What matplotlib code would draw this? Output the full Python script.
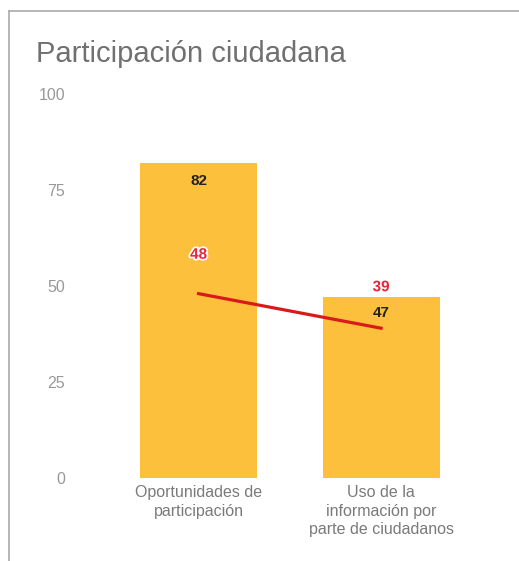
import matplotlib
matplotlib.use("Agg")
import matplotlib.pyplot as plt
from matplotlib.lines import Line2D
import matplotlib.patheffects as pe

# datos
categorias = ["Oportunidades de\nparticipación", "Uso de la\ninformación por\nparte de ciudadanos"]
barras = [82, 47]
linea = [48, 39]
ticks_y = [0, 25, 50, 75, 100]

plt.rcParams['font.family'] = ['Liberation Sans', 'DejaVu Sans']

fig = plt.figure(figsize=(5.19, 5.61), dpi=100)
ax = fig.add_axes([0.1927, 0.148, 0.7322, 0.6845])

x = list(range(len(categorias)))
ax.bar(x, barras, width=0.64, color="#FDC03D", zorder=2)
ax.plot(x, linea, color="#D91A1A", linewidth=2.3, zorder=3)

# etiquetas de valores
offs_barras = [-13, -11.5]
for xi, v, off in zip(x, barras, offs_barras):
    ax.annotate(str(v), (xi, v), xytext=(0, off), textcoords="offset points",
                ha="center", va="center", fontsize=11, fontweight="bold",
                color="#222222", zorder=5)
offs_linea = [28, 29.5]
for xi, v, off in zip(x, linea, offs_linea):
    ax.annotate(str(v), (xi, v), xytext=(0, off), textcoords="offset points",
                ha="center", va="center", fontsize=11, fontweight="bold",
                color="#E5283C", zorder=5,
                path_effects=[pe.withStroke(linewidth=2.5, foreground="white")])

ax.set_xlim(-0.54, 1.542)
ax.set_ylim(0, 100)
ax.set_yticks(ticks_y)
ax.set_xticks(x)
ax.set_xticklabels(categorias, fontsize=11.5, color="#7a7a7a", linespacing=1.3)
ax.tick_params(axis="y", length=0, pad=25, labelsize=11.5, labelcolor="#999999")
ax.tick_params(axis="x", length=0, pad=5)
for s in ax.spines.values():
    s.set_visible(False)

fig.text(0.069, 0.903, "Participación ciudadana", fontsize=21, color="#707070",
         ha="left", va="center")

# borde de la tarjeta
fig.add_artist(Line2D([9 / 519, 9 / 519], [0, 1 - 10.5 / 561], color="#aaaaaa", linewidth=1.2))
fig.add_artist(Line2D([9 / 519, 1], [1 - 10.5 / 561, 1 - 10.5 / 561], color="#aaaaaa", linewidth=1.2))

fig.savefig("out.png", dpi=100)
